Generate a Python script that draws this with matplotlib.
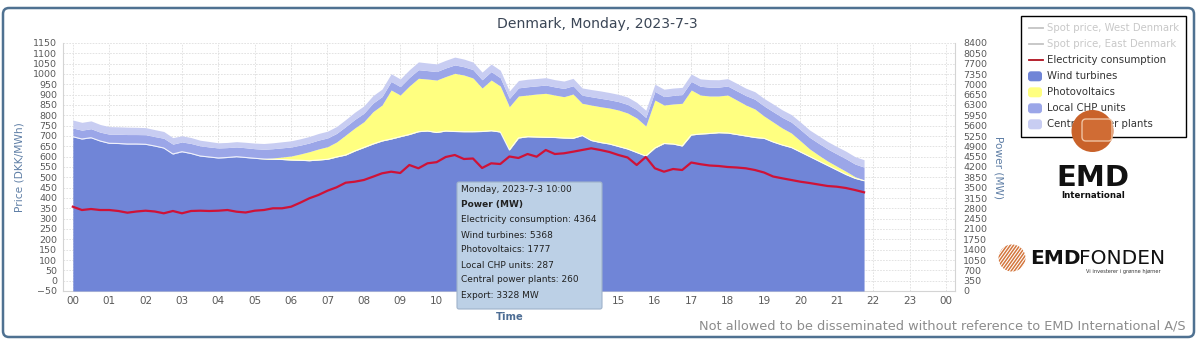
import numpy as np
import pandas as pd
import matplotlib
matplotlib.use('Agg')
import matplotlib.pyplot as plt
from matplotlib.patches import FancyBboxPatch, Rectangle, Circle
from matplotlib.lines import Line2D

# 15-minute values, 00:00 - 21:45 (MW)
times = pd.date_range('2023-07-03 00:00', periods=88, freq='15min')
hours = np.asarray((times - times[0]).total_seconds() / 3600)

consumption = [2855, 2743, 2777, 2743, 2743, 2710, 2652, 2693,
               2720, 2693, 2632, 2710, 2632, 2710, 2720, 2710,
               2720, 2743, 2686, 2659, 2720, 2743, 2801, 2801,
               2855, 2991, 3140, 3252, 3397, 3512, 3668, 3702,
               3760, 3871, 3986, 4041, 3997, 4268, 4156, 4325,
               4364, 4539, 4606, 4471, 4488, 4166, 4325, 4301,
               4556, 4505, 4640, 4549, 4776, 4640, 4664, 4718,
               4776, 4833, 4776, 4708, 4606, 4522, 4268, 4539,
               4156, 4041, 4132, 4098, 4352, 4295, 4251, 4234,
               4200, 4183, 4156, 4098, 4014, 3878, 3817, 3760,
               3702, 3658, 3607, 3556, 3533, 3489, 3421, 3343]

wind = [5226, 5148, 5192, 5081, 5003, 4996, 4979, 4979,
        4969, 4911, 4843, 4640, 4718, 4657, 4572, 4539,
        4505, 4522, 4549, 4522, 4495, 4471, 4461, 4454,
        4437, 4427, 4413, 4437, 4461, 4539, 4606, 4742,
        4860, 4979, 5081, 5148, 5226, 5301, 5396, 5419,
        5368, 5419, 5402, 5396, 5396, 5402, 5429, 5385,
        4776, 5182, 5226, 5216, 5206, 5199, 5182, 5172,
        5267, 5097, 5030, 4979, 4894, 4810, 4691, 4572,
        4843, 4996, 4979, 4911, 5284, 5318, 5335, 5362,
        5351, 5301, 5250, 5199, 5172, 5047, 4945, 4860,
        4708, 4556, 4403, 4251, 4098, 3946, 3817, 3736]

pv = [0, 0, 0, 0, 0, 0, 0, 0,
      0, 0, 0, 0, 0, 0, 0, 0,
      0, 0, 0, 0, 0, 10, 44, 85,
      135, 213, 305, 373, 427, 508, 677, 779,
      874, 1094, 1219, 1660, 1412, 1643, 1809, 1761,
      1777, 1846, 1971, 1920, 1819, 1473, 1717, 1558,
      1467, 1423, 1412, 1456, 1490, 1439, 1399, 1500,
      1091, 1202, 1213, 1219, 1236, 1219, 1169, 1016,
      1626, 1304, 1355, 1446, 1524, 1321, 1270, 1243,
      1287, 1169, 1050, 965, 755, 677, 576, 491,
      380, 260, 200, 150, 130, 110, 55, 25]

local_chp = [295, 300, 305, 300, 310, 315, 320, 320,
             325, 320, 330, 335, 330, 340, 345, 340,
             340, 335, 330, 330, 325, 320, 315, 310,
             305, 300, 295, 300, 295, 290, 285, 290,
             285, 290, 285, 290, 285, 290, 290, 285,
             287, 290, 285, 280, 285, 280, 285, 280,
             280, 275, 280, 275, 280, 275, 280, 280,
             275, 280, 285, 280, 285, 290, 285, 290,
             290, 285, 290, 295, 290, 295, 300, 300,
             305, 310, 320, 330, 340, 350, 360, 370,
             380, 390, 400, 410, 415, 425, 430, 435]

central = [270, 265, 265, 260, 255, 250, 250, 245,
           240, 235, 230, 220, 210, 200, 190, 185,
           175, 175, 180, 185, 190, 195, 200, 205,
           210, 215, 220, 225, 230, 235, 240, 245,
           250, 255, 255, 260, 260, 260, 265, 260,
           260, 260, 265, 260, 255, 260, 255, 255,
           250, 250, 255, 250, 250, 245, 250, 250,
           245, 245, 250, 245, 245, 250, 245, 245,
           245, 250, 250, 245, 250, 250, 255, 250,
           250, 255, 250, 255, 255, 260, 255, 255,
           255, 250, 255, 250, 250, 255, 250, 250]

hour_labels = [f'{h % 24:02d}' for h in range(25)]
price_ticks = np.arange(-50, 1151, 50)
power_ticks = np.arange(0, 8401, 350)

legend_labels = ['Spot price, West Denmark', 'Spot price, East Denmark',
                 'Electricity consumption', 'Wind turbines', 'Photovoltaics',
                 'Local CHP units', 'Central power plants']
tooltip_lines = ['Monday, 2023-7-3 10:00', 'Power (MW)',
                 'Electricity consumption: 4364', 'Wind turbines: 5368',
                 'Photovoltaics: 1777', 'Local CHP units: 287',
                 'Central power plants: 260', 'Export: 3328 MW']

c_wind = '#7085d7'
c_pv = '#ffff80'
c_local = '#9ba6e8'
c_central = '#c8cdf2'
c_red = '#cf1237'
tick_col = '#5a5a5a'
axis_title_col = '#5f7fa6'

W, H = 1200, 340
fig = plt.figure(figsize=(12, 3.4), dpi=100)
fig.patch.set_facecolor('white')

# main plot area (pixel box 63..955 x 43..291)
ax = fig.add_axes([63 / W, 1 - 291 / H, (955 - 63) / W, (291 - 43) / H])
ax.set_xlim(-0.27, 24.25)
ax.set_ylim(-50, 1150)
ax.set_yticks(price_ticks)
ax.set_xticks(range(25))
ax.set_xticklabels(hour_labels)
ax.tick_params(axis='y', length=0, pad=4.3, labelsize=6.8, labelcolor=tick_col)
ax.tick_params(axis='x', length=0, pad=3.5, labelsize=7.5, labelcolor=tick_col)
# labels 11-14 sit under the tooltip box
for t in ax.get_xticklabels()[11:15]:
    t.set_visible(False)
ax.grid(True, color='#dedede', linewidth=0.6, linestyle=(0, (2, 1.5)))
for sp in ax.spines.values():
    sp.set_color('#d4d4d4')
    sp.set_linewidth(0.8)
ax.spines['top'].set_visible(False)

ax2 = ax.twinx()
ax2.set_ylim(0, 8400)
ax2.set_yticks(power_ticks)
ax2.tick_params(axis='y', length=0, pad=5.8, labelsize=6.8, labelcolor=tick_col)
for sp in ax2.spines.values():
    sp.set_visible(False)

# stacked production areas
w = np.array(wind, dtype=float)
p = w + np.array(pv)
l = p + np.array(local_chp)
c = l + np.array(central)
ax2.fill_between(hours, 0, w, color=c_wind, lw=0)
ax2.fill_between(hours, w, p, color=c_pv, lw=0)
ax2.fill_between(hours, p, l, color=c_local, lw=0)
ax2.fill_between(hours, l, c, color=c_central, lw=0)
ax2.plot(hours, w, color='white', lw=0.8, alpha=0.85)
ax2.plot(hours, consumption, color=c_red, lw=1.6)

# overlay in pixel coordinates for decorations
ov = fig.add_axes([0, 0, 1, 1])
ov.set_xlim(0, W)
ov.set_ylim(H, 0)
ov.axis('off')
ov.patch.set_alpha(0)

ov.add_patch(FancyBboxPatch((3, 8), 1191, 329, boxstyle='round,pad=0,rounding_size=6',
                            fc='none', ec='#4f7191', lw=1.8))

ov.text(597.5, 24, 'Denmark, Monday, 2023-7-3', ha='center', va='center',
        fontsize=10.1, color='#3b4656')
ov.text(20, 167, 'Price (DKK/MWh)', rotation=90, ha='center', va='center',
        fontsize=7.7, color=axis_title_col)
ov.text(998, 168, 'Power (MW)', rotation=270, ha='center', va='center',
        fontsize=7.6, color=axis_title_col)
ov.text(510, 317, 'Time', ha='center', va='center', fontsize=7.2,
        fontweight='bold', color='#4d6d94')
ov.text(1186, 326, 'Not allowed to be disseminated without reference to EMD International A/S',
        ha='right', va='center', fontsize=9.3, color='#8c8c8c')

# tooltip
ov.add_patch(FancyBboxPatch((457, 182), 145, 127, boxstyle='round,pad=0,rounding_size=2',
                            fc='#bcd0e6', ec='#9fb3cb', lw=0.8, zorder=5))
for k, line in enumerate(tooltip_lines):
    ov.text(461, 190 + 15 * k, line, ha='left', va='center', fontsize=6.5,
            color='#222222', fontweight='bold' if k == 1 else 'normal', zorder=6)

# legend
ov.add_patch(Rectangle((1021, 16), 165, 121, fc='white', ec='black', lw=1.0, zorder=2))
leg_colors = ['#c4c4c4', '#c4c4c4', '#b0101e', c_wind, c_pv, c_local, c_central]
for k, (lab, col) in enumerate(zip(legend_labels, leg_colors)):
    y = 28.3 + 16 * k
    if k < 3:
        ov.add_line(Line2D([1029, 1043], [y, y], color=col, lw=1.3, zorder=3))
    else:
        ov.add_patch(FancyBboxPatch((1028, y - 5), 14, 10,
                                    boxstyle='round,pad=0,rounding_size=3',
                                    fc=col, ec='none', zorder=3))
    ov.text(1047, y, lab, ha='left', va='center', fontsize=7.3,
            color='#c8c8c8' if k < 2 else '#333333', zorder=3)

# EMD International logo
ov.add_patch(Circle((1092.5, 131), 21, fc='#c9622a', ec='none', zorder=4))
ov.add_patch(FancyBboxPatch((1082, 119), 30, 22, boxstyle='round,pad=0,rounding_size=4',
                            fc='#d06c34', ec='#efc3a3', lw=1.0, zorder=4))
ov.text(1093, 178, 'EMD', ha='center', va='center', fontsize=21, fontweight='bold',
        color='#111111', zorder=4)
ov.text(1093, 195, 'International', ha='center', va='center', fontsize=6.2,
        fontweight='bold', color='#111111', zorder=4)

# EMD Fonden logo
disc = Circle((1012, 258), 13.5, fc='white', ec='none', transform=ov.transData)
ov.add_patch(disc)
for off in np.arange(-30, 31, 3.2):
    ln = Line2D([1012 + off - 10, 1012 + off + 10], [272, 244], color='#d4773e', lw=1.1)
    ov.add_line(ln)
    ln.set_clip_path(disc)
ov.text(1030, 259, 'EMD', ha='left', va='center', fontsize=14.5, fontweight='bold',
        color='#111111')
ov.text(1079, 259, 'FONDEN', ha='left', va='center', fontsize=14.5, color='#111111')
ov.text(1123, 272, 'Vi investerer i grønne hjørner', ha='center', va='center',
        fontsize=3.6, color='#333333')

fig.savefig('out.png', dpi=100)
